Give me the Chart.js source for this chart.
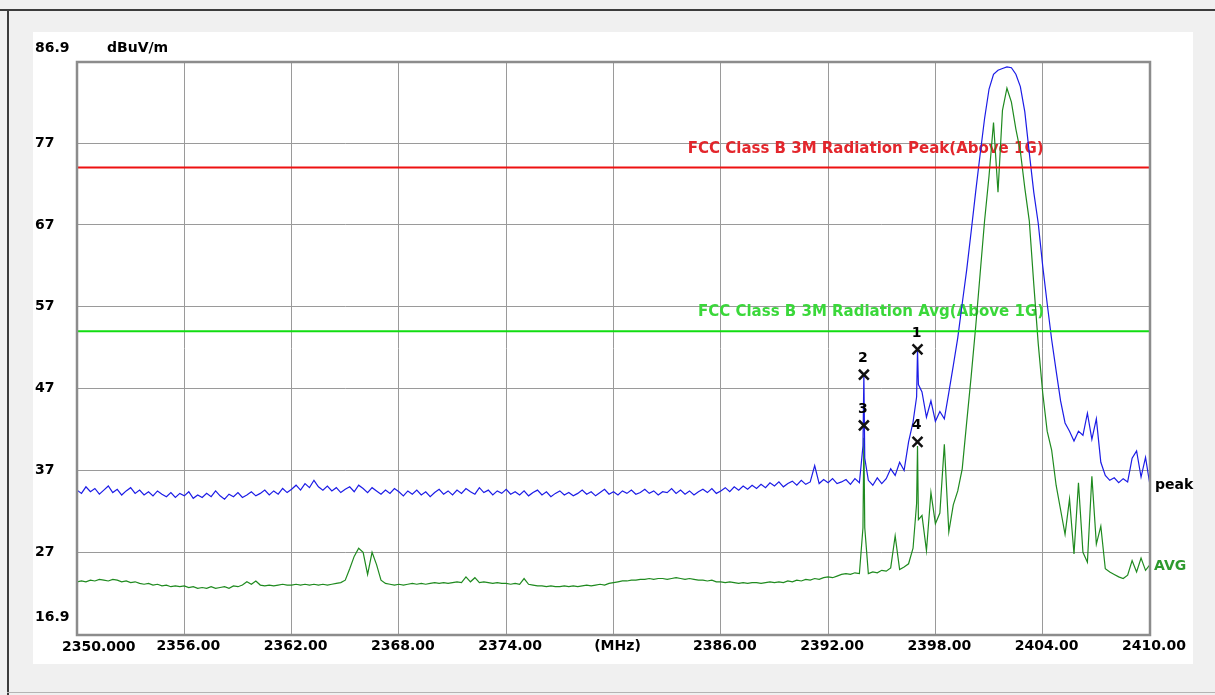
<!DOCTYPE html>
<html><head><meta charset="utf-8">
<script src="https://cdn.jsdelivr.net/npm/chart.js@4/dist/chart.umd.min.js"></script>
<style>
html,body{margin:0;padding:0;background:#f0f0f0;width:1215px;height:695px;overflow:hidden;}
#frameTop{position:absolute;left:0;top:9px;width:1215px;height:2px;background:#3c3c3c;}
#frameLeft{position:absolute;left:7px;top:9px;width:2px;height:686px;background:#3c3c3c;}
#frameBottom{position:absolute;left:7px;top:692px;width:1208px;height:1px;background:#b4b4b4;}
#panel{position:absolute;left:33px;top:32px;width:1160px;height:632px;background:#ffffff;}
#wrap{position:absolute;left:0;top:0;width:1215px;height:695px;}
</style></head>
<body>
<div id="frameTop"></div><div id="frameLeft"></div><div id="frameBottom"></div>
<div id="panel"></div>
<div id="wrap"><canvas id="c" width="1215" height="695"></canvas></div>
<script>
// ---------------- data ----------------
const freqMHz = [
2350,2350.25,2350.5,2350.75,
2351,2351.25,2351.5,2351.75,
2352,2352.25,2352.5,2352.75,
2353,2353.25,2353.5,2353.75,
2354,2354.25,2354.5,2354.75,
2355,2355.25,2355.5,2355.75,
2356,2356.25,2356.5,2356.75,
2357,2357.25,2357.5,2357.75,
2358,2358.25,2358.5,2358.75,
2359,2359.25,2359.5,2359.75,
2360,2360.25,2360.5,2360.75,
2361,2361.25,2361.5,2361.75,
2362,2362.25,2362.5,2362.75,
2363,2363.25,2363.5,2363.75,
2364,2364.25,2364.5,2364.75,
2365,2365.25,2365.5,2365.75,
2366,2366.25,2366.5,2366.75,
2367,2367.25,2367.5,2367.75,
2368,2368.25,2368.5,2368.75,
2369,2369.25,2369.5,2369.75,
2370,2370.25,2370.5,2370.75,
2371,2371.25,2371.5,2371.75,
2372,2372.25,2372.5,2372.75,
2373,2373.25,2373.5,2373.75,
2374,2374.25,2374.5,2374.75,
2375,2375.25,2375.5,2375.75,
2376,2376.25,2376.5,2376.75,
2377,2377.25,2377.5,2377.75,
2378,2378.25,2378.5,2378.75,
2379,2379.25,2379.5,2379.75,
2380,2380.25,2380.5,2380.75,
2381,2381.25,2381.5,2381.75,
2382,2382.25,2382.5,2382.75,
2383,2383.25,2383.5,2383.75,
2384,2384.25,2384.5,2384.75,
2385,2385.25,2385.5,2385.75,
2386,2386.25,2386.5,2386.75,
2387,2387.25,2387.5,2387.75,
2388,2388.25,2388.5,2388.75,
2389,2389.25,2389.5,2389.75,
2390,2390.25,2390.5,2390.75,
2391,2391.25,2391.5,2391.75,
2392,2392.25,2392.5,2392.75,
2393,2393.25,2393.5,2393.75,2393.95,
2394,2394.05,2394.25,2394.5,2394.75,
2395,2395.25,2395.5,2395.75,
2396,2396.25,2396.5,2396.75,2396.95,
2397,2397.05,2397.25,2397.5,2397.75,
2398,2398.25,2398.5,2398.75,
2399,2399.25,2399.5,2399.75,
2400,2400.25,2400.5,2400.75,
2401,2401.25,2401.5,2401.75,
2402,2402.25,2402.5,2402.75,
2403,2403.25,2403.5,2403.75,
2404,2404.25,2404.5,2404.75,
2405,2405.25,2405.5,2405.75,
2406,2406.25,2406.5,2406.75,
2407,2407.25,2407.5,2407.75,
2408,2408.25,2408.5,2408.75,
2409,2409.25,2409.5,2409.75,
2410];

const peakTrace = [
34.6,34.2,35.0,34.4,
34.8,34.1,34.6,35.1,
34.3,34.7,34.0,34.5,
34.9,34.2,34.6,34.0,
34.4,33.9,34.5,34.1,
33.8,34.3,33.7,34.2,
33.9,34.4,33.6,34.0,
33.7,34.2,33.8,34.5,
33.9,33.5,34.1,33.8,
34.3,33.7,34.0,34.4,
33.9,34.2,34.6,34.0,
34.5,34.1,34.8,34.3,
34.7,35.2,34.6,35.4,
34.9,35.8,35.0,34.6,
35.1,34.5,34.9,34.3,
34.7,35.0,34.4,35.2,
34.8,34.3,34.9,34.5,
34.1,34.6,34.2,34.8,
34.4,33.9,34.5,34.1,
34.6,34.0,34.4,33.8,
34.3,34.7,34.1,34.5,
34.0,34.6,34.2,34.8,
34.4,34.1,34.9,34.3,
34.6,34.0,34.5,34.2,
34.7,34.1,34.4,34.0,
34.5,33.9,34.3,34.6,
34.0,34.4,33.8,34.2,
34.5,34.0,34.3,33.9,
34.2,34.6,34.1,34.4,
33.9,34.3,34.7,34.1,
34.4,34.0,34.5,34.2,
34.6,34.1,34.3,34.7,
34.2,34.5,34.0,34.4,
34.3,34.8,34.2,34.6,
34.1,34.5,34.0,34.4,
34.7,34.3,34.8,34.2,
34.5,34.9,34.4,35.0,
34.6,35.1,34.7,35.2,
34.8,35.3,34.9,35.5,
35.1,35.6,35.0,35.4,
35.7,35.2,35.8,35.3,
35.6,37.6,35.4,35.9,
35.5,36.0,35.4,35.6,
35.9,35.3,36.0,35.5,40.0,
48.7,38.5,35.8,35.2,36.1,
35.4,36.0,37.2,36.4,
38.0,37.0,40.5,42.9,46.0,
51.8,47.5,46.6,43.5,45.5,
43.0,44.2,43.3,46.5,
49.8,53.2,57.4,61.5,
66.2,71.0,75.6,80.0,
83.6,85.4,85.9,86.1,
86.3,86.2,85.4,83.9,
80.8,75.8,71.0,67.2,
62.0,57.4,53.0,49.2,
45.5,42.8,41.8,40.6,
41.8,41.3,44.0,40.8,
43.3,38.0,36.4,35.8,
36.1,35.5,36.0,35.6,
38.5,39.4,36.2,38.6,
35.2];

const avgTrace = [
23.4,23.5,23.4,23.6,
23.5,23.7,23.6,23.5,
23.7,23.6,23.4,23.5,
23.3,23.4,23.2,23.1,
23.2,23.0,23.1,22.9,
23.0,22.8,22.9,22.8,
22.9,22.7,22.8,22.6,
22.7,22.6,22.8,22.6,
22.7,22.8,22.6,22.9,
22.8,23.0,23.4,23.1,
23.5,23.0,22.9,23.0,
22.9,23.0,23.1,23.0,
23.0,23.1,23.0,23.1,
23.0,23.1,23.0,23.1,
23.0,23.1,23.2,23.3,
23.6,25.0,26.5,27.5,
27.0,24.3,27.0,25.5,
23.6,23.2,23.1,23.0,
23.1,23.0,23.1,23.2,
23.1,23.2,23.1,23.2,
23.3,23.2,23.3,23.2,
23.3,23.4,23.3,24.0,
23.4,23.9,23.3,23.4,
23.3,23.2,23.3,23.2,
23.2,23.1,23.2,23.1,
23.8,23.1,23.0,22.9,
22.9,22.8,22.9,22.8,
22.8,22.9,22.8,22.9,
22.8,22.9,23.0,22.9,
23.0,23.1,23.0,23.2,
23.3,23.4,23.5,23.5,
23.6,23.6,23.7,23.7,
23.8,23.7,23.8,23.8,
23.7,23.8,23.9,23.8,
23.7,23.8,23.7,23.6,
23.6,23.5,23.6,23.4,
23.4,23.3,23.4,23.3,
23.2,23.3,23.2,23.3,
23.3,23.2,23.3,23.4,
23.3,23.4,23.3,23.5,
23.4,23.6,23.5,23.7,
23.6,23.8,23.7,23.9,
24.0,23.9,24.1,24.3,
24.4,24.3,24.5,24.4,30.0,
41.0,30.0,24.4,24.6,24.5,
24.8,24.7,25.1,29.0,
24.9,25.2,25.6,27.5,33.0,
40.0,31.0,31.5,27.2,34.3,
30.5,31.8,40.2,29.5,
32.8,34.5,37.2,42.9,
48.5,54.5,61.0,67.5,
73.0,79.5,71.0,81.0,
83.7,82.0,78.7,76.0,
71.5,67.5,59.8,52.5,
46.5,41.8,39.5,35.2,
32.2,29.2,33.5,26.8,
35.5,27.0,25.8,36.3,
28.0,30.2,25.0,24.6,
24.3,24.0,23.8,24.2,
26.0,24.6,26.3,24.8,
25.5];

const limitFreq = [2350, 2410];
const peakLimit = [74, 74];
const avgLimit = [54, 54];
const peakLimitText = 'FCC Class B 3M Radiation Peak(Above 1G)';
const avgLimitText = 'FCC Class B 3M Radiation Avg(Above 1G)';

const markerFreq = [2397, 2394, 2394, 2397];
const markerLevel = [51.8, 48.7, 42.5, 40.5];
const markerNo = ['1', '2', '3', '4'];

const xTicks = [2350, 2356, 2362, 2368, 2374, 2380, 2386, 2392, 2398, 2404, 2410];
const xTickLabels = ['2350.000', '2356.00', '2362.00', '2368.00', '2374.00', '(MHz)', '2386.00', '2392.00', '2398.00', '2404.00', '2410.00'];
const yTicks = [16.9, 27, 37, 47, 57, 67, 77, 86.9];
const yTickLabels = ['16.9', '27', '37', '47', '57', '67', '77', '86.9'];
const yUnit = 'dBuV/m';

// ---------------- chart ----------------
const FONT = '"DejaVu Sans", sans-serif';
const pts = (xs, ys) => xs.map((f, i) => ({x: f, y: ys[i]}));

const annot = {
  id: 'annot',
  beforeDatasetsDraw(chart) {
    const {ctx, scales: {x, y}} = chart;
    ctx.save();
    ctx.font = 'bold 15px ' + FONT;
    ctx.textAlign = 'center';
    ctx.textBaseline = 'middle';
    ctx.fillStyle = '#e3262c';
    ctx.fillText(peakLimitText, x.getPixelForValue(2394.1), y.getPixelForValue(peakLimit[0]) - 18);
    ctx.fillStyle = '#3ad83a';
    ctx.fillText(avgLimitText, x.getPixelForValue(2394.4), y.getPixelForValue(avgLimit[0]) - 19);
    ctx.restore();
  },
  afterDraw(chart) {
    const {ctx, chartArea: a, scales: {x, y}} = chart;
    ctx.save();
    ctx.strokeStyle = '#8c8c8c';
    ctx.lineWidth = 2.5;
    ctx.strokeRect(a.left, a.top, a.right - a.left, a.bottom - a.top);
    ctx.fillStyle = '#000';
    ctx.textBaseline = 'middle';
    ctx.textAlign = 'left';
    ctx.font = 'bold 14px ' + FONT;
    ctx.fillText(yTickLabels[yTickLabels.length - 1], 35, y.getPixelForValue(yTicks[yTicks.length - 1]) - 14);
    ctx.fillText(yTickLabels[0], 35, y.getPixelForValue(yTicks[0]) - 18);
    ctx.fillText(yUnit, 107, y.getPixelForValue(yTicks[yTicks.length - 1]) - 14);
    ctx.fillText(xTickLabels[0], 62, a.bottom + 12);
    const last = freqMHz.length - 1;
    ctx.fillText('peak', a.right + 5, y.getPixelForValue(peakTrace[last]));
    ctx.fillStyle = '#2e9a2e';
    ctx.fillText('AVG', a.right + 4, y.getPixelForValue(avgTrace[last]) + 2);
    ctx.fillStyle = '#000';
    ctx.textAlign = 'center';
    ctx.font = 'bold 14px ' + FONT;
    markerNo.forEach((n, i) => {
      ctx.fillText(n, x.getPixelForValue(markerFreq[i]) - 1, y.getPixelForValue(markerLevel[i]) - 16);
    });
    ctx.restore();
  }
};

new Chart(document.getElementById('c'), {
  type: 'line',
  data: {
    datasets: [
      {label: 'markers', data: pts(markerFreq, markerLevel), showLine: false, pointStyle: 'crossRot',
       pointRadius: 7, borderColor: '#111', backgroundColor: '#111', borderWidth: 2.5},
      {label: 'peak limit', data: pts(limitFreq, peakLimit), borderColor: '#ee1111', borderWidth: 2, pointRadius: 0},
      {label: 'avg limit', data: pts(limitFreq, avgLimit), borderColor: '#11dd11', borderWidth: 2, pointRadius: 0},
      {label: 'peak', data: pts(freqMHz, peakTrace), borderColor: '#1c1ce6', borderWidth: 1.2, pointRadius: 0},
      {label: 'AVG', data: pts(freqMHz, avgTrace), borderColor: '#1f8a1f', borderWidth: 1.2, pointRadius: 0}
    ]
  },
  options: {
    responsive: false,
    animation: false,
    events: [],
    layout: {padding: {left: 35, top: 62, right: 65, bottom: 30}},
    plugins: {legend: {display: false}, tooltip: {enabled: false}},
    elements: {line: {tension: 0}},
    scales: {
      x: {
        type: 'linear', min: 2350, max: 2410,
        afterBuildTicks: s => { s.ticks = xTicks.map(v => ({value: v})); },
        afterFit: s => { s.height = 30; },
        grid: {color: '#9a9a9a', lineWidth: 1, drawTicks: false},
        border: {display: false},
        ticks: {
          autoSkip: false, maxRotation: 0, minRotation: 0, padding: 3, labelOffset: 4,
          color: '#000', font: {family: FONT, size: 14, weight: 'bold'},
          callback: (v, i) => (i === 0 ? '' : xTickLabels[i])
        }
      },
      y: {
        type: 'linear', min: 16.9, max: 86.9,
        afterBuildTicks: s => { s.ticks = yTicks.map(v => ({value: v})); },
        afterFit: s => { s.width = 42; },
        grid: {color: '#9a9a9a', lineWidth: 1, drawTicks: false},
        border: {display: false},
        ticks: {
          crossAlign: 'far', padding: 0,
          color: '#000', font: {family: FONT, size: 14, weight: 'bold'},
          callback: (v, i) => (i === 0 || i === yTicks.length - 1 ? '' : yTickLabels[i])
        }
      }
    }
  },
  plugins: [annot]
});
</script>
</body></html>
